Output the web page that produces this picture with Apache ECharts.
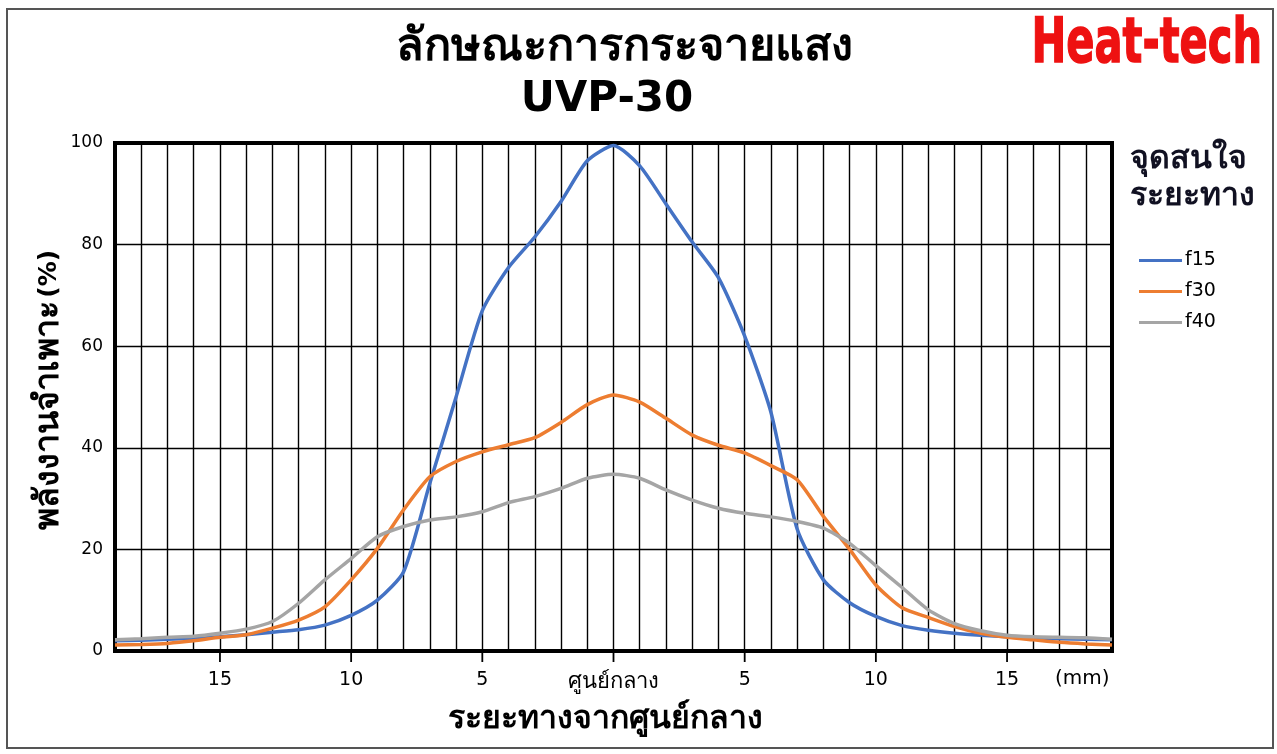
<!DOCTYPE html>
<html lang="th">
<head>
  <meta charset="UTF-8">
  <script src="https://cdn.jsdelivr.net/npm/echarts@6/dist/echarts.min.js"></script>
  <title>UVP-30</title>
  <style>
    html, body { margin: 0; padding: 0; background: #ffffff; }
    #chart { width: 1277px; height: 754px; }
  </style>
</head>
<body>
  <div id="chart"></div>
<script>
  // ระยะทาง (mm) จากศูนย์กลาง
  const distances = [-19, -18, -17, -16, -15, -14, -13, -12, -11, -10, -9, -8, -7, -6, -5, -4, -3, -2, -1,
    0, 1, 2, 3, 4, 5, 6, 7, 8, 9, 10, 11, 12, 13, 14, 15, 16, 17, 18, 19];

  const f15 = [2.0, 2.1, 2.3, 2.5, 2.8, 3.2, 3.7, 4.2, 5.1, 7.0, 10.0, 15.6, 33, 50, 67, 75.5, 81.5, 88.5, 96.5,
    99.5, 95.5, 88, 80.5, 73.5, 62, 47, 24, 14, 9.5, 6.8, 5.0, 4.1, 3.5, 3.1, 2.8, 2.6, 2.4, 2.3, 2.2];
  const f30 = [1.2, 1.3, 1.5, 2.0, 2.7, 3.2, 4.5, 6.1, 8.7, 14, 20.2, 27.8, 34.3, 37.3, 39.2, 40.6, 42, 45, 48.5,
    50.4, 49, 45.8, 42.5, 40.5, 39, 36.5, 33.7, 26.5, 20, 13, 8.5, 6.6, 4.8, 3.5, 2.7, 2.2, 1.7, 1.4, 1.2];
  const f40 = [2.2, 2.4, 2.7, 2.9, 3.5, 4.3, 5.8, 9.4, 14, 18.2, 22.5, 24.5, 25.8, 26.4, 27.4, 29.2, 30.4, 32, 34,
    34.8, 34, 31.7, 29.7, 28.1, 27.1, 26.4, 25.5, 24.2, 21.2, 16.8, 12.5, 8.1, 5.4, 4.0, 3.1, 2.8, 2.7, 2.6, 2.3];

  const seriesNames = ['f15', 'f30', 'f40'];
  const seriesColors = ['#4472C4', '#ED7D31', '#A5A5A5'];
  const labelTicks = [-15, -10, -5, 0, 5, 10, 15];

  const font = "'DejaVu Sans', 'Noto Sans', sans-serif";

  function pairs(values) {
    return distances.map((d, i) => [d, values[i]]);
  }

  const chart = echarts.init(document.getElementById('chart'));

  const lineSeries = seriesNames.map((name, i) => ({
    name: name,
    type: 'line',
    xAxisIndex: 0,
    data: pairs([f15, f30, f40][i]),
    symbol: 'none',
    smooth: 0.22,
    lineStyle: { width: 3.5, color: seriesColors[i] },
    itemStyle: { color: seriesColors[i] }
  }));

  // ขีดสั้นใต้แกน x ตรงตำแหน่งตัวเลข
  const tickSeries = {
    type: 'custom',
    silent: true,
    clip: false,
    z: 5,
    data: labelTicks.map(v => [v, 0]),
    renderItem: (params, api) => {
      const p = api.coord([api.value(0), 0]);
      return {
        type: 'line',
        shape: { x1: p[0], y1: p[1] + 2, x2: p[0], y2: p[1] + 11 },
        style: { stroke: '#000', lineWidth: 1.8 }
      };
    }
  };

  const option = {
    animation: false,
    backgroundColor: '#ffffff',
    textStyle: { fontFamily: font, color: '#000' },
    grid: {
      left: 115, right: 165, top: 143, bottom: 103,
      show: true,
      borderColor: '#000',
      borderWidth: 4,
      backgroundColor: 'transparent'
    },
    legend: {
      orient: 'vertical',
      left: 1134,
      top: 246,
      icon: 'rect',
      itemWidth: 43,
      itemHeight: 3,
      itemGap: 12,
      data: seriesNames,
      textStyle: { fontFamily: font, fontSize: 19, color: '#000', padding: [0, 0, 0, -2] }
    },
    xAxis: [
      {
        type: 'value',
        min: -19, max: 19, interval: 1,
        axisLine: { show: false },
        axisTick: { show: false },
        axisLabel: { show: false },
        splitLine: { show: true, lineStyle: { color: '#000', width: 1.4 } }
      },
      {
        type: 'value',
        min: -19, max: 19,
        position: 'bottom',
        axisLine: { show: true, onZero: false, lineStyle: { color: '#000', width: 4 } },
        axisTick: { show: false },
        axisLabel: {
          customValues: labelTicks,
          margin: 20,
          fontSize: 19,
          color: '#000',
          formatter: v => (v === 0 ? '{c|ศูนย์กลาง}' : String(Math.abs(v))),
          rich: { c: { fontSize: 22, fontFamily: font, color: '#000' } }
        },
        splitLine: { show: false },
        name: 'ระยะทางจากศูนย์กลาง',
        nameLocation: 'middle',
        nameGap: 53,
        nameTextStyle: { fontSize: 32, fontWeight: 'bold', color: '#000', fontFamily: font, padding: [0, 16, 0, 0] }
      }
    ],
    yAxis: {
      type: 'value',
      min: 0, max: 100, interval: 20,
      axisLine: { show: false },
      axisTick: { show: false },
      axisLabel: { fontSize: 17, color: '#000', margin: 12 },
      splitLine: { show: true, lineStyle: { color: '#000', width: 1.4 } }
    },
    series: lineSeries.concat([tickSeries]),
    graphic: [
      {
        type: 'rect',
        shape: { x: 7, y: 9, width: 1266, height: 739 },
        style: { fill: 'none', stroke: '#555', lineWidth: 2 },
        silent: true
      },
      {
        type: 'text', x: 624, y: 48,
        style: { text: 'ลักษณะการกระจายแสง', font: "bold 45px " + font, fill: '#000', align: 'center', verticalAlign: 'middle' }
      },
      {
        type: 'text', x: 607, y: 100,
        style: { text: 'UVP-30', font: "bold 42px " + font, fill: '#000', align: 'center', verticalAlign: 'middle' }
      },
      {
        type: 'text', x: 1262, y: 46, scaleX: 0.66,
        style: {
          text: 'Heat-tech',
          font: "bold 63px 'DejaVu Sans', sans-serif",
          fill: '#EE1111', stroke: '#EE1111', lineWidth: 1.5,
          align: 'right', verticalAlign: 'middle'
        }
      },
      {
        // ชื่อแกน y
        type: 'text', x: 49, y: 390, rotation: Math.PI / 2,
        style: {
          text: '{t|พลังงานจำเพาะ} {p|(%)}',
          align: 'center', verticalAlign: 'middle',
          rich: {
            t: { font: "bold 34px " + font, fill: '#000' },
            p: { font: "bold 25px " + font, fill: '#000' }
          }
        }
      },
      {
        type: 'text', x: 1130, y: 160,
        style: { text: 'จุดสนใจ', font: "bold 32px " + font, fill: '#111122', verticalAlign: 'middle' }
      },
      {
        type: 'text', x: 1130, y: 197,
        style: { text: 'ระยะทาง', font: "bold 32px " + font, fill: '#111122', verticalAlign: 'middle' }
      },
      {
        type: 'text', x: 1055, y: 679,
        style: { text: '(mm)', font: "20px " + font, fill: '#000', verticalAlign: 'middle' }
      }
    ]
  };

  chart.setOption(option);
</script>
</body>
</html>
